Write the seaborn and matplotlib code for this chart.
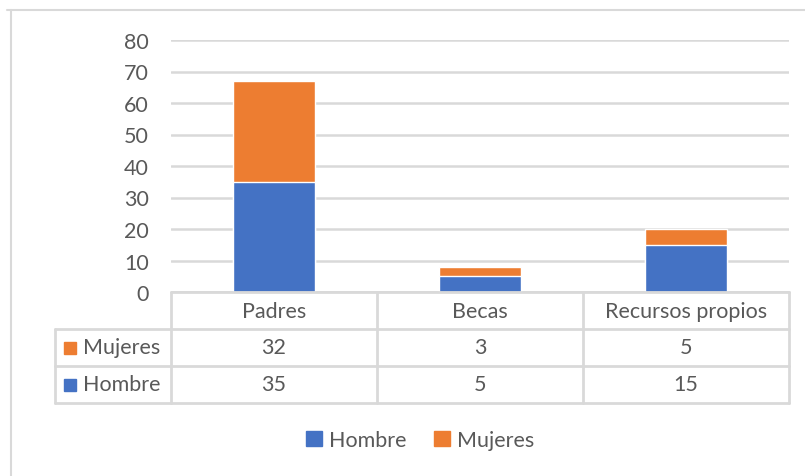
import matplotlib
matplotlib.use('Agg')
import matplotlib.pyplot as plt
from matplotlib.lines import Line2D
from matplotlib.patches import Patch, Rectangle
import numpy as np
import pandas as pd
import seaborn as sns

# datos
categorias = ['Padres', 'Becas', 'Recursos propios']
hombre = [35, 5, 15]
mujeres = [32, 3, 5]
series = ['Mujeres', 'Hombre']  # orden de las filas de la tabla
colores = {'Hombre': '#4472C4', 'Mujeres': '#ED7D31'}
yticks = [0, 10, 20, 30, 40, 50, 60, 70, 80]

sns.set_theme(style='white')
plt.rcParams['font.family'] = ['Lato', 'DejaVu Sans']
gris_txt = '#595959'
gris_lin = '#D9D9D9'
fs = 15.5

W, H = 805, 477
fig = plt.figure(figsize=(W / 100, H / 100), dpi=100)

def px(x0, y0, x1, y1):
    return [x0 / W, 1 - y1 / H, (x1 - x0) / W, (y1 - y0) / H]

df = pd.DataFrame({'cat': categorias, 'Hombre': hombre, 'Mujeres': mujeres})
df['total'] = df['Hombre'] + df['Mujeres']

# grafico de barras apiladas
ax = fig.add_axes(px(171, 41, 789, 293))
sns.barplot(data=df, x='cat', y='total', color=colores['Mujeres'], width=0.4,
            saturation=1, ax=ax)
sns.barplot(data=df, x='cat', y='Hombre', color=colores['Hombre'], width=0.4,
            saturation=1, ax=ax)
ax.set_xlim(-0.5, 2.5)
ax.set_ylim(0, 80)
ax.set_yticks(yticks)
ax.yaxis.grid(True, color=gris_lin, lw=1.8)
ax.set_axisbelow(True)
ax.set_xlabel('')
ax.set_ylabel('')
ax.set_xticks([])
ax.tick_params(axis='y', length=0, labelsize=fs, labelcolor=gris_txt, pad=16)
for s in ax.spines.values():
    s.set_visible(False)

# tabla de datos debajo
tx = fig.add_axes(px(171, 293, 789, 404))
tx.set_xlim(-0.5, 2.5)
tx.set_ylim(3, 0)
tx.axis('off')
izq = -0.5 - (171 - 55) / 206
lk = dict(color=gris_lin, lw=2, clip_on=False)
tx.add_line(Line2D([-0.5, 2.5], [0, 0], **lk))
for y in [1, 2, 3]:
    tx.add_line(Line2D([izq, 2.5], [y, y], **lk))
for x in [-0.5, 0.5, 1.5, 2.5]:
    tx.add_line(Line2D([x, x], [0, 3], **lk))
tx.add_line(Line2D([izq, izq], [1, 3], **lk))

for i, c in enumerate(categorias):
    tx.text(i, 0.5, c, ha='center', va='center', fontsize=fs, color=gris_txt)
valores = {'Hombre': hombre, 'Mujeres': mujeres}
for r, s in enumerate(series):
    y = r + 1.5
    for i, v in enumerate(valores[s]):
        tx.text(i, y, str(v), ha='center', va='center', fontsize=fs, color=gris_txt)
    tx.add_patch(Rectangle((izq + 0.044, y - 0.16), 0.058, 0.34,
                           color=colores[s], clip_on=False))
    tx.text(izq + 0.135, y, s, ha='left', va='center', fontsize=fs, color=gris_txt)

# leyenda
handles = [Patch(color=colores['Hombre'], label='Hombre'),
           Patch(color=colores['Mujeres'], label='Mujeres')]
fig.legend(handles=handles, loc='center', bbox_to_anchor=(420 / W, 1 - 441 / H),
           ncol=2, frameon=False, fontsize=fs, labelcolor=gris_txt,
           handlelength=0.75, handleheight=0.75, handletextpad=0.3, columnspacing=1.3)

# borde del area del grafico
fig.add_artist(Line2D([7 / W, 1], [1 - 11 / H, 1 - 11 / H], color=gris_lin, lw=1.5))
fig.add_artist(Line2D([11 / W, 11 / W], [0, 1 - 11 / H], color=gris_lin, lw=1.5))

fig.savefig('out.png', dpi=100, facecolor='white')
